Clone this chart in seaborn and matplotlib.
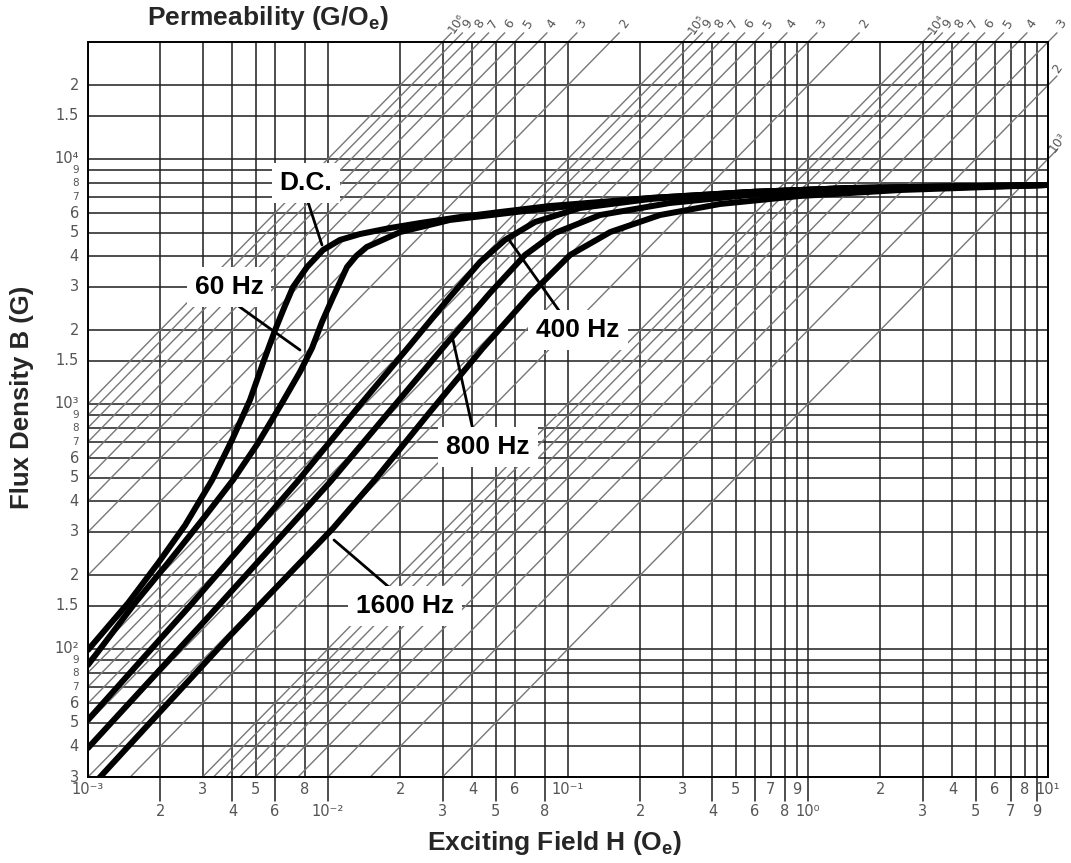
import numpy as np
import pandas as pd
import matplotlib
matplotlib.use("Agg")
import matplotlib.pyplot as plt
import seaborn as sns
from matplotlib.ticker import NullLocator

sns.set_style("white")
plt.rcParams["font.family"] = ["Liberation Sans", "DejaVu Sans"]
plt.rcParams["mathtext.fontset"] = "custom"
plt.rcParams["mathtext.rm"] = "Liberation Sans"
plt.rcParams["mathtext.bf"] = "Liberation Sans:bold"

# ---------------- data ----------------
curve_names = ["D.C.", "60 Hz", "400 Hz", "800 Hz", "1600 Hz"]

H_dc = [0.001, 0.00147, 0.00196, 0.00254, 0.00329, 0.00398, 0.00473, 0.00536, 0.00602,
        0.00656, 0.00715, 0.00818, 0.00953, 0.0112, 0.0136, 0.0181, 0.0242, 0.0355,
        0.0521, 0.0841, 0.136, 0.220, 0.573, 1.50, 10.0]
B_dc = [99, 154, 224, 320, 489, 712, 1037, 1469, 2002,
        2463, 3000, 3620, 4247, 4667, 4936, 5222, 5474, 5791,
        6071, 6423, 6670, 6924, 7326, 7606, 7826]

H_60 = [0.001, 0.00157, 0.00215, 0.00299, 0.00402, 0.00511, 0.00643, 0.00764, 0.00858,
        0.00944, 0.0105, 0.0120, 0.0131, 0.0145, 0.0200, 0.0322, 0.0715, 0.136, 0.220,
        0.573, 1.50, 10.0]
B_60 = [86, 154, 224, 336, 489, 692, 1008, 1350, 1691,
        2159, 2731, 3620, 4014, 4369, 5029, 5632, 6185, 6607, 6924,
        7326, 7606, 7826]

H_400 = [0.001, 0.00266, 0.00743, 0.0136, 0.0220, 0.0322, 0.0430, 0.0546, 0.0729,
         0.112, 0.220, 0.573, 1.50, 10.0]
B_400 = [51.3, 150, 480, 990, 1739, 2731, 3794, 4667, 5526,
         6302, 6859, 7326, 7606, 7826]

H_800 = [0.001, 0.00293, 0.0102, 0.0190, 0.0313, 0.0473, 0.0662, 0.0883, 0.136,
         0.266, 0.573, 1.50, 10.0]
B_800 = [39.4, 124, 480, 990, 1772, 2835, 4052, 4984, 5902,
         6607, 7122, 7464, 7826]

H_1600 = [0.001, 0.0039, 0.0105, 0.0159, 0.0266, 0.0442, 0.0694, 0.102, 0.150,
          0.242, 0.430, 0.926, 2.42, 10.0]
B_1600 = [26.5, 113, 311, 498, 927, 1691, 2782, 4052, 5029,
          5902, 6545, 7056, 7464, 7826]

x_ticks = [0.001, 0.002, 0.003, 0.004, 0.005, 0.006, 0.008,
           0.01, 0.02, 0.03, 0.04, 0.05, 0.06, 0.08,
           0.1, 0.2, 0.3, 0.4, 0.5, 0.6, 0.7, 0.8, 0.9,
           1, 2, 3, 4, 5, 6, 7, 8, 9, 10]
x_tick_labels = ["10⁻³", "2", "3", "4", "5", "6", "8",
                 "10⁻²", "2", "3", "4", "5", "6", "8",
                 "10⁻¹", "2", "3", "4", "5", "6", "7", "8", "9",
                 "10⁰", "2", "3", "4", "5", "6", "7", "8", "9", "10¹"]

y_ticks = [30, 40, 50, 60, 70, 80, 90,
           100, 150, 200, 300, 400, 500, 600, 700, 800, 900,
           1000, 1500, 2000, 3000, 4000, 5000, 6000, 7000, 8000, 9000,
           10000, 15000, 20000]
y_tick_labels = ["3", "4", "5", "6", "7", "8", "9",
                 "10²", "1.5", "2", "3", "4", "5", "6", "7", "8", "9",
                 "10³", "1.5", "2", "3", "4", "5", "6", "7", "8", "9",
                 "10⁴", "1.5", "2"]

perm_values = [1e3, 2e3, 3e3, 4e3, 5e3, 6e3, 7e3, 8e3, 9e3,
               1e4, 2e4, 3e4, 4e4, 5e4, 6e4, 7e4, 8e4, 9e4,
               1e5, 2e5, 3e5, 4e5, 5e5, 6e5, 7e5, 8e5, 9e5, 1e6]
perm_labels = ["10³", "2", "3", "4", "5", "6", "7", "8", "9",
               "10⁴", "2", "3", "4", "5", "6", "7", "8", "9",
               "10⁵", "2", "3", "4", "5", "6", "7", "8", "9", "10⁶"]

# ---------------- figure ----------------
W, HH = 1071, 863
fig = plt.figure(figsize=(W / 100, HH / 100), dpi=100)
fig.patch.set_facecolor("white")
ax = fig.add_axes([88 / W, 1 - 777 / HH, 960 / W, 735 / HH])
ax.set_xscale("log")
ax.set_yscale("log")
ax.set_xlim(1e-3, 10)
ax.set_ylim(30, 3e4)
for axis in (ax.xaxis, ax.yaxis):
    axis.set_major_locator(NullLocator())
    axis.set_minor_locator(NullLocator())
for s in ax.spines.values():
    s.set_color("black")
    s.set_linewidth(1.4)
    s.set_zorder(6)

grid_c = "#1e1e1e"
for xv in x_ticks:
    ax.axvline(xv, color=grid_c, lw=1.1, zorder=1)
for yv in y_ticks:
    ax.axhline(yv, color=grid_c, lw=1.1, zorder=1)

# permeability lines B = mu * H
diag_c = "#777777"
xlo, xhi = ax.get_xlim()
ylo, yhi = ax.get_ylim()
Hline = np.array([xlo, xhi])
ext = 10 ** (9 / 240)
for mu, lab in zip(perm_values, perm_labels):
    ax.plot(Hline, mu * Hline, color=diag_c, lw=1.0, zorder=2)
    Ht = yhi / mu
    if Ht <= xhi * 1.0001:
        x0, y0 = Ht, yhi
        off = (10, 13)
    else:
        x0, y0 = xhi, mu * xhi
        off = (7, 12)
    ax.plot([x0, x0 * ext], [y0, y0 * ext], color=diag_c, lw=1.0, zorder=2, clip_on=False)
    ax.annotate(lab, xy=(x0, y0), xytext=off, textcoords="offset points",
                rotation=55, ha="center", va="center", fontsize=9, color="#555555",
                family=["DejaVu Sans"], annotation_clip=False)

# curves
frames = []
for name, hs, bs in zip(curve_names, [H_dc, H_60, H_400, H_800, H_1600],
                        [B_dc, B_60, B_400, B_800, B_1600]):
    frames.append(pd.DataFrame({"H": hs, "B": bs, "curve": name}))
df = pd.concat(frames, ignore_index=True)
sns.lineplot(data=df, x="H", y="B", hue="curve", hue_order=curve_names,
             palette=["black"] * len(curve_names), estimator=None, sort=False,
             linewidth=4.3, legend=False, ax=ax, zorder=5,
             solid_capstyle="round", solid_joinstyle="round")
ax.set_xlabel("")
ax.set_ylabel("")

# x tick labels (two staggered rows)
xtr = ax.get_xaxis_transform()
for i, (xv, lab) in enumerate(zip(x_ticks, x_tick_labels)):
    lower = (i % 2 == 1)
    if lower:
        ax.plot([xv, xv], [0, -24 / 735], transform=xtr, color=grid_c, lw=1.1, clip_on=False)
        yy = -35 / 735
    else:
        yy = -13 / 735
    ax.text(xv, yy, lab, transform=xtr, ha="center", va="center", fontsize=10.5,
            color="#555555", family=["DejaVu Sans"])

# y tick labels
ytr = ax.get_yaxis_transform()
for yv, lab in zip(y_ticks, y_tick_labels):
    fs = 7.5 if lab in ("7", "8", "9") else 10.5
    ax.text(-9 / 960, yv, lab, transform=ytr, ha="right", va="center", fontsize=fs,
            color="#555555", family=["DejaVu Sans"])

# curve labels with leader lines (positions in pixel layout of the reference)
def pos(px, py):
    return ((px - 88) / 960, (777 - py) / 735)

labels_px = {"D.C.": (306, 183), "60 Hz": (229, 287), "400 Hz": (578, 330),
             "800 Hz": (488, 447), "1600 Hz": (405, 606)}
leaders_px = {"D.C.": [(308, 202), (322, 245)], "60 Hz": [(237, 305), (300, 350)],
              "400 Hz": [(560, 312), (507, 237)], "800 Hz": [(473, 430), (453, 340)],
              "1600 Hz": [(390, 588), (334, 540)]}
for name in curve_names:
    (a, b) = leaders_px[name]
    pa, pb = pos(*a), pos(*b)
    ax.plot([pa[0], pb[0]], [pa[1], pb[1]], transform=ax.transAxes, color="black",
            lw=2.0, zorder=7, clip_on=False)
    tx, ty = pos(*labels_px[name])
    ax.text(tx, ty, name, transform=ax.transAxes, ha="center", va="center",
            fontsize=19, fontweight="bold", color="black", zorder=8,
            bbox=dict(boxstyle="square,pad=0.3", fc="white", ec="none"))

# axis titles
fig.text(555 / W, 1 - 843 / HH, r"Exciting Field H (O$_{\mathbf{e}}$)", ha="center",
         va="center", fontsize=19, fontweight="bold")
fig.text(22 / W, 1 - 397 / HH, "Flux Density B (G)", rotation=90, ha="center",
         va="center", fontsize=18.5, fontweight="bold")
fig.text(268 / W, 1 - 18 / HH, r"Permeability (G/O$_{\mathbf{e}}$)", ha="center",
         va="center", fontsize=19, fontweight="bold")

fig.savefig("out.png", dpi=100, facecolor="white")
